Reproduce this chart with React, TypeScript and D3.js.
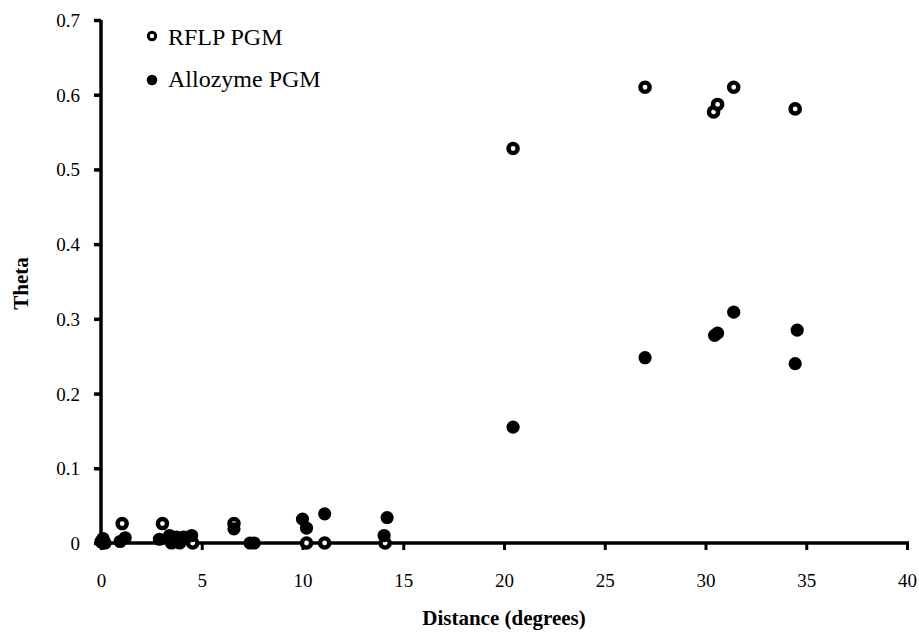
import React, { useEffect, useRef } from 'react';
import * as d3 from 'd3';

// RFLP PGM (open markers)
const rflpDistance = [0.1, 1.05, 3.05, 4.55, 6.6, 10.2, 11.1, 14.1, 20.45, 27.0, 30.4, 30.6, 31.4, 34.45];
const rflpTheta = [0.0, 0.026, 0.026, 0.0, 0.026, 0.0, 0.0, 0.0, 0.528, 0.61, 0.577, 0.587, 0.61, 0.581];

// Allozyme PGM (filled markers)
const alloDistance = [0.0, 0.1, 0.2, 0.95, 1.2, 2.9, 3.4, 3.5, 3.75, 3.9, 4.1, 4.5, 6.6, 7.4, 7.6, 10.0, 10.2, 11.1, 14.05, 14.2, 20.45, 27.0, 30.45, 30.6, 31.4, 34.45, 34.55];
const alloTheta = [0.002, 0.006, 0.0, 0.002, 0.007, 0.005, 0.01, 0.0, 0.008, 0.0, 0.008, 0.01, 0.019, 0.0, 0.0, 0.032, 0.02, 0.039, 0.01, 0.034, 0.155, 0.248, 0.278, 0.281, 0.309, 0.24, 0.285];

const xTicks = [0, 5, 10, 15, 20, 25, 30, 35, 40];
const yTicks = [0, 0.1, 0.2, 0.3, 0.4, 0.5, 0.6, 0.7];
const seriesNames = ['RFLP PGM', 'Allozyme PGM'];

const App: React.FC = () => {
  const svgRef = useRef<SVGSVGElement>(null);

  useEffect(() => {
    if (!svgRef.current) return;
    const svg = d3.select(svgRef.current);
    svg.selectAll('*').remove();

    const font = '"Liberation Serif", "Times New Roman", serif';
    svg.style('font-family', font);
    const x = d3.scaleLinear().domain([0, 40]).range([101, 907]);
    const y = d3.scaleLinear().domain([0, 0.7]).range([543, 20]);

    // y axis
    const yAxis = svg.append('g').attr('transform', `translate(${x(0)},0)`)
      .call(d3.axisLeft(y).tickValues(yTicks).tickSize(7).tickPadding(14)
        .tickFormat(d => (+d === 0 ? '0' : d3.format('.1f')(+d))));
    yAxis.style('font-family', font).style('font-size', '19px');
    yAxis.select('.domain').attr('stroke', '#000').attr('stroke-width', 3.5).attr('d', `M0,${y(0.7)}V${y(0)}`);
    yAxis.selectAll('.tick line').attr('stroke', '#000').attr('stroke-width', 3.5);
    yAxis.selectAll('.tick text')
      .style('font-family', font).style('font-size', '19px').attr('fill', '#000').attr('dy', '0.34em');

    // x axis
    const xAxis = svg.append('g').attr('transform', `translate(0,${y(0)})`)
      .call(d3.axisBottom(x).tickValues(xTicks).tickSize(7).tickPadding(24));
    xAxis.style('font-family', font).style('font-size', '19px');
    xAxis.select('.domain').attr('stroke', '#000').attr('stroke-width', 3.5).attr('d', `M${x(0) - 6},0H${x(40) + 2}`);
    xAxis.selectAll('.tick line').attr('stroke', '#000').attr('stroke-width', 3);
    xAxis.selectAll('.tick text')
      .style('font-family', font).style('font-size', '19px').attr('fill', '#000');

    // axis titles
    svg.append('text')
      .attr('x', (x(0) + x(40)) / 2).attr('y', 625)
      .attr('text-anchor', 'middle').attr('fill', '#000')
      .style('font-family', font).style('font-weight', 'bold').style('font-size', '21px')
      .text('Distance (degrees)');
    svg.append('text')
      .attr('transform', `translate(28,${(y(0) + y(0.7)) / 2 + 2}) rotate(-90)`)
      .attr('text-anchor', 'middle').attr('fill', '#000')
      .style('font-family', font).style('font-weight', 'bold').style('font-size', '21px')
      .text('Theta');

    // RFLP points drawn first, allozyme on top
    svg.append('g').selectAll('circle')
      .data(d3.zip(rflpDistance, rflpTheta))
      .join('circle')
      .attr('cx', d => x(d[0])).attr('cy', d => y(d[1]))
      .attr('r', 4.6).attr('fill', '#fff')
      .attr('stroke', '#000').attr('stroke-width', 4.4);

    svg.append('g').selectAll('circle')
      .data(d3.zip(alloDistance, alloTheta))
      .join('circle')
      .attr('cx', d => x(d[0])).attr('cy', d => y(d[1]))
      .attr('r', 6.6).attr('fill', '#000');

    // legend
    const legend = svg.append('g');
    legend.append('circle').attr('cx', 152).attr('cy', 36).attr('r', 3.7)
      .attr('fill', '#fff').attr('stroke', '#000').attr('stroke-width', 3);
    legend.append('text').attr('x', 168).attr('y', 45).attr('fill', '#000')
      .style('font-family', font).style('font-size', '24px').text(seriesNames[0]);
    legend.append('circle').attr('cx', 152).attr('cy', 80).attr('r', 5.3).attr('fill', '#000');
    legend.append('text').attr('x', 168).attr('y', 87).attr('fill', '#000')
      .style('font-family', font).style('font-size', '24px').text(seriesNames[1]);
  }, []);

  return (
    <svg ref={svgRef} width={919} height={632}
      style={{ position: 'absolute', left: 0, top: 0, background: '#fff' }} />
  );
};

export default App;
